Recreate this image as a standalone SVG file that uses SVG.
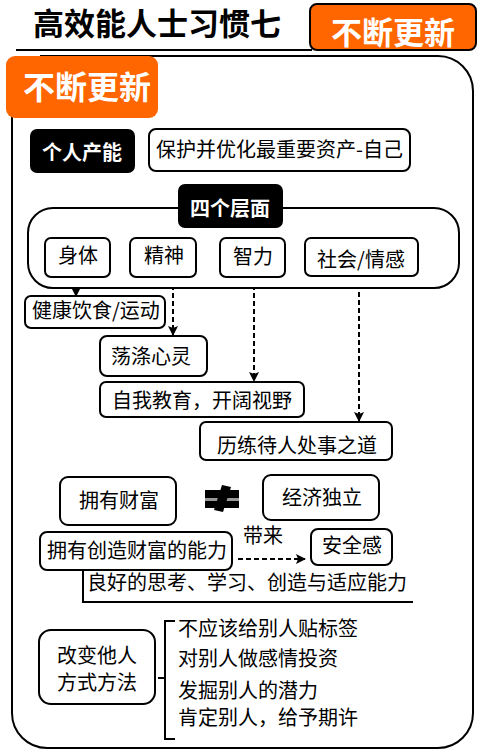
<svg xmlns="http://www.w3.org/2000/svg" width="484" height="755" viewBox="0 0 484 755">
<defs>
<style>
.t{font-family:"Noto Sans CJK SC","Liberation Sans",sans-serif;font-size:20px;fill:#000}
.tb{font-family:"Noto Sans CJK SC","Liberation Sans",sans-serif;font-weight:bold;fill:#fff}
.box{fill:#fff;stroke:#000;stroke-width:2}
.blk{fill:#000;stroke:none}
.org{fill:#FF6600}
.ln{fill:none;stroke:#000;stroke-width:2}
.dash{fill:none;stroke:#000;stroke-width:2;stroke-dasharray:5 3}
</style>
<marker id="ah" viewBox="0 0 10 10" refX="9" refY="5" markerWidth="10" markerHeight="10" orient="auto" markerUnits="userSpaceOnUse">
<path d="M0,0 L10,5 L0,10 L2,5 Z" fill="#000"/>
</marker>
</defs>
<rect width="484" height="755" fill="#fff"/>

<g id="title">
<text x="33" y="35" font-family="Noto Sans CJK SC, sans-serif" font-weight="bold" font-size="31" fill="#000">高效能人士习惯七</text>
<line x1="16" y1="50" x2="312" y2="50" stroke="#000" stroke-width="2"/>
</g>
<g id="tag-top">
<rect x="310" y="4" width="166" height="46" rx="7" class="org" stroke="#000" stroke-width="2"/>
<text x="393" y="44" class="tb" font-size="31" text-anchor="middle">不断更新</text>
</g>

<g id="frame">
<path d="M40,56 L438,56 A35,35 0 0 1 473,91 L473,713 A35,35 0 0 1 438,748 L47,748 A35,35 0 0 1 12,713 L12,90" class="ln"/>
</g>
<g id="tag-main">
<rect x="6" y="56" width="152" height="62" rx="9" class="org"/>
<text x="87" y="99" class="tb" font-size="32" text-anchor="middle">不断更新</text>
</g>

<g id="connectors">
<line x1="76" y1="277" x2="76" y2="296" class="dash" marker-end="url(#ah)"/>
<line x1="173" y1="277" x2="173" y2="335" class="dash" marker-end="url(#ah)"/>
<line x1="254" y1="277" x2="254" y2="381" class="dash" marker-end="url(#ah)"/>
<line x1="359" y1="276" x2="359" y2="421" class="dash" marker-end="url(#ah)"/>
<line x1="238" y1="559" x2="305" y2="559" class="dash" marker-end="url(#ah)"/>
<path d="M83,570 L83,602 L413,602" class="ln" stroke-width="1.5"/>
<path d="M175,621 L165,621 L165,739 L175,739 M165,678 L158,678" class="ln" stroke-width="1.5"/>
</g>

<g id="n-personal">
<rect x="30" y="129" width="105" height="44" rx="7" class="blk"/>
<text x="82" y="160" class="tb" font-size="20" text-anchor="middle">个人产能</text>
</g>
<g id="n-protect">
<rect x="149" y="129" width="261" height="42" rx="7" class="box"/>
<text x="156" y="157" class="t">保护并优化最重要资产-自己</text>
</g>

<g id="n-four-container">
<rect x="28" y="208" width="431" height="80" rx="25" class="box"/>
</g>
<g id="n-four">
<rect x="178" y="184" width="105" height="44" rx="7" class="blk"/>
<text x="230" y="216" class="tb" font-size="20" text-anchor="middle">四个层面</text>
</g>
<g id="n-body">
<rect x="45" y="238" width="65" height="39" rx="6" class="box"/>
<text x="78" y="263" class="t" text-anchor="middle">身体</text>
</g>
<g id="n-spirit">
<rect x="130" y="238" width="66" height="39" rx="6" class="box"/>
<text x="164" y="263" class="t" text-anchor="middle">精神</text>
</g>
<g id="n-intellect">
<rect x="220" y="238" width="65" height="39" rx="6" class="box"/>
<text x="253" y="264" class="t" text-anchor="middle">智力</text>
</g>
<g id="n-social">
<rect x="305" y="238" width="113" height="38" rx="6" class="box"/>
<text x="361" y="267" class="t" text-anchor="middle">社会/情感</text>
</g>

<g id="n-health">
<rect x="25" y="296" width="140" height="32" rx="6" class="box"/>
<text x="32" y="318" class="t">健康饮食/运动</text>
</g>
<g id="n-cleanse">
<rect x="100" y="336" width="107" height="40" rx="7" class="box"/>
<text x="111" y="364" class="t">荡涤心灵</text>
</g>
<g id="n-educate">
<rect x="100" y="382" width="204" height="35" rx="6" class="box"/>
<text x="112" y="408" class="t">自我教育，开阔视野</text>
</g>
<g id="n-people">
<rect x="200" y="422" width="192" height="38" rx="6" class="box"/>
<text x="217" y="453" class="t">历练待人处事之道</text>
</g>

<g id="n-wealth">
<rect x="60" y="477" width="116" height="48" rx="8" class="box"/>
<text x="119" y="508" class="t" text-anchor="middle">拥有财富</text>
</g>
<g id="n-neq">
<rect x="205" y="490" width="34" height="8" fill="#000"/>
<rect x="205" y="501" width="34" height="7" fill="#000"/>
<rect x="205" y="498" width="34" height="3" fill="#999"/>
<polygon points="222,485 231,487 223,512 214,510" fill="#000"/>
</g>
<g id="n-independent">
<rect x="263" y="475" width="116" height="45" rx="8" class="box"/>
<text x="322" y="505" class="t" text-anchor="middle">经济独立</text>
</g>
<g id="n-ability">
<rect x="40" y="532" width="192" height="38" rx="7" class="box"/>
<text x="47" y="558" class="t">拥有创造财富的能力</text>
</g>
<g id="n-bring">
<text x="243" y="543" class="t" font-size="22">带来</text>
</g>
<g id="n-security">
<rect x="311" y="529" width="81" height="36" rx="7" class="box"/>
<text x="352" y="553" class="t" text-anchor="middle">安全感</text>
</g>
<g id="n-good">
<text x="87" y="590" class="t">良好的思考、学习、创造与适应能力</text>
</g>

<g id="n-change">
<rect x="39" y="630" width="116" height="74" rx="12" class="box"/>
<text x="97" y="663" class="t" text-anchor="middle">改变他人</text>
<text x="97" y="690" class="t" text-anchor="middle">方式方法</text>
</g>
<g id="n-list">
<text x="178" y="636" class="t">不应该给别人贴标签</text>
<text x="178" y="666" class="t">对别人做感情投资</text>
<text x="178" y="698" class="t">发掘别人的潜力</text>
<text x="178" y="725" class="t">肯定别人，给予期许</text>
</g>
</svg>
